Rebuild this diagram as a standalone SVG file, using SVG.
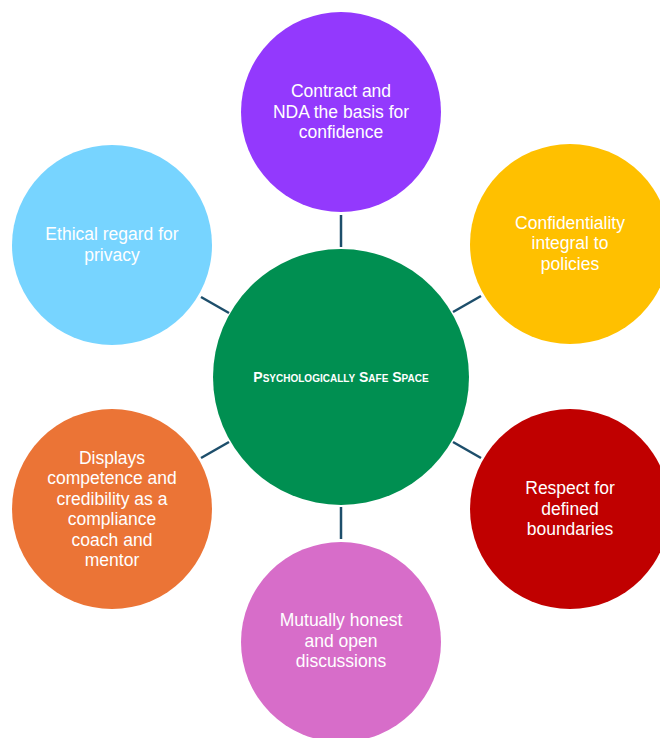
<svg xmlns="http://www.w3.org/2000/svg" width="660" height="738" viewBox="0 0 660 738">
<style>
.lbl{font-family:"Liberation Sans",Arial,sans-serif;font-size:17.5px;fill:#ffffff;text-anchor:middle}
.ctr{font-family:"Liberation Sans",Arial,sans-serif;font-size:14px;font-weight:bold;font-variant:small-caps;fill:#ffffff;text-anchor:middle}
.conn{stroke:#1d4e6b;stroke-width:2.5;fill:none}
</style>
<rect width="660" height="738" fill="#ffffff"/>
<g id="connectors">
<line class="conn" x1="341" y1="215" x2="341" y2="247"/>
<line class="conn" x1="341" y1="507" x2="341" y2="539"/>
<line class="conn" x1="201" y1="297" x2="229" y2="313"/>
<line class="conn" x1="201" y1="458" x2="229" y2="442"/>
<line class="conn" x1="453" y1="312" x2="481" y2="296"/>
<line class="conn" x1="453" y1="442" x2="481" y2="458"/>
</g>
<g id="center">
<circle cx="341" cy="377" r="128" fill="#008f51"/>
<text class="ctr" x="341" y="382">Psychologically Safe Space</text>
</g>
<g id="contract">
<circle cx="341" cy="112" r="100" fill="#9339fd"/>
<text class="lbl" x="341" y="97">Contract and</text>
<text class="lbl" x="341" y="117.5">NDA the basis for</text>
<text class="lbl" x="341" y="138">confidence</text>
</g>
<g id="confidentiality">
<circle cx="570" cy="244" r="100" fill="#ffc000"/>
<text class="lbl" x="570" y="228.5">Confidentiality</text>
<text class="lbl" x="570" y="249">integral to</text>
<text class="lbl" x="570" y="269.5">policies</text>
</g>
<g id="respect">
<circle cx="570" cy="509" r="100" fill="#c00000"/>
<text class="lbl" x="570" y="494">Respect for</text>
<text class="lbl" x="570" y="514.5">defined</text>
<text class="lbl" x="570" y="535">boundaries</text>
</g>
<g id="mutual">
<circle cx="341" cy="642" r="100" fill="#d76dc9"/>
<text class="lbl" x="341" y="626">Mutually honest</text>
<text class="lbl" x="341" y="646.5">and open</text>
<text class="lbl" x="341" y="667">discussions</text>
</g>
<g id="displays">
<circle cx="112" cy="509" r="100" fill="#eb7436"/>
<text class="lbl" x="112" y="463.5">Displays</text>
<text class="lbl" x="112" y="484">competence and</text>
<text class="lbl" x="112" y="504.5">credibility as a</text>
<text class="lbl" x="112" y="525">compliance</text>
<text class="lbl" x="112" y="545.5">coach and</text>
<text class="lbl" x="112" y="566">mentor</text>
</g>
<g id="ethical">
<circle cx="112" cy="245" r="100" fill="#77d4ff"/>
<text class="lbl" x="112" y="240">Ethical regard for</text>
<text class="lbl" x="112" y="260.5">privacy</text>
</g>
</svg>
